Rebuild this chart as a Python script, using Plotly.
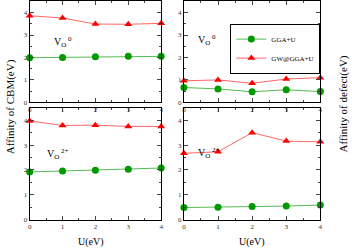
import plotly.graph_objects as go

U = [0, 1, 2, 3, 4]
tick_labels = ["0", "1", "2", "3", "4"]

# Vo0, affinity of CBM
cbm_v0_gga = [1.99, 2.00, 2.03, 2.05, 2.05]
cbm_v0_gw = [3.86, 3.76, 3.49, 3.48, 3.52]
# Vo0, affinity of defect
def_v0_gga = [0.66, 0.60, 0.47, 0.56, 0.48]
def_v0_gw = [0.96, 1.00, 0.85, 1.04, 1.10]
# Vo2+, affinity of CBM
cbm_v2_gga = [1.92, 1.96, 1.99, 2.03, 2.08]
cbm_v2_gw = [3.97, 3.79, 3.80, 3.75, 3.75]
# Vo2+, affinity of defect
def_v2_gga = [0.49, 0.50, 0.53, 0.55, 0.59]
def_v2_gw = [2.67, 2.73, 3.50, 3.16, 3.13]

GREEN = "#009900"
GREEN_L = "#55bb55"
RED = "#ff0000"
RED_L = "#ff6666"
FONT = "Liberation Serif"

fig = go.Figure()

panels = [
    ("x", "y", cbm_v0_gga, cbm_v0_gw, False),
    ("x2", "y2", def_v0_gga, def_v0_gw, True),
    ("x3", "y3", cbm_v2_gga, cbm_v2_gw, False),
    ("x4", "y4", def_v2_gga, def_v2_gw, False),
]
for xa, ya, gga, gw, show in panels:
    fig.add_trace(go.Scatter(
        x=U, y=gga, xaxis=xa, yaxis=ya, mode="lines+markers",
        name="GGA+U", showlegend=show, cliponaxis=False,
        line=dict(color=GREEN_L, width=1),
        marker=dict(color=GREEN, size=7, symbol="circle")))
    fig.add_trace(go.Scatter(
        x=U, y=gw, xaxis=xa, yaxis=ya, mode="lines+markers",
        name="GW@GGA+U", showlegend=show, cliponaxis=False,
        line=dict(color=RED_L, width=1),
        marker=dict(color=RED, size=7, symbol="triangle-up")))

W, H = 352, 252
xl = [28 / W, 161 / W]
xr = [184 / W, 322 / W]
yt = [(H - 104) / H, (H - 1.4) / H]
yb = [(H - 223.3) / H, (H - 109.5) / H]

def xaxis(dom, anchor):
    return dict(domain=dom, anchor=anchor, range=[0, 4], tickvals=U, ticktext=tick_labels,
                ticks="inside", ticklen=4, showline=True, mirror="allticks", linecolor="black",
                linewidth=1, showgrid=False, zeroline=False,
                tickfont=dict(family=FONT, size=7, color="#333"),
                minor=dict(ticks="inside", dtick=0.5, ticklen=2, showgrid=False))

def yaxis(dom, anchor):
    return dict(domain=dom, anchor=anchor, range=[0, 4.5], tickvals=[0, 1, 2, 3, 4],
                ticks="inside", ticklen=4, showline=True, mirror="allticks", linecolor="black",
                linewidth=1, showgrid=False, zeroline=False,
                tickfont=dict(family=FONT, size=7, color="#333"),
                minor=dict(ticks="inside", dtick=0.5, ticklen=2, showgrid=False))

fig.update_layout(
    width=W, height=H, margin=dict(l=0, r=0, t=0, b=0),
    paper_bgcolor="white", plot_bgcolor="white",
    font=dict(family=FONT, color="black"),
    xaxis=xaxis(xl, "y"), yaxis=yaxis(yt, "x"),
    xaxis2=xaxis(xr, "y2"), yaxis2=yaxis(yt, "x2"),
    xaxis3=xaxis(xl, "y3"), yaxis3=yaxis(yb, "x3"),
    xaxis4=xaxis(xr, "y4"), yaxis4=yaxis(yb, "x4"),
    legend=dict(x=322 / W, y=(H - 24) / H, xanchor="right", yanchor="top",
                bgcolor="white", bordercolor="black", borderwidth=1,
                font=dict(family=FONT, size=7), itemwidth=30,
                tracegroupgap=0),
)

anns = [
    dict(x=8 / W, y=(H - 108) / H, text="Affinity of CBM(eV)", textangle=-90, size=11, xa="center"),
    dict(x=345 / W, y=(H - 106) / H, text="Affinity of defect(eV)", textangle=-90, size=11, xa="center"),
    dict(x=90 / W, y=(H - 246) / H, text="U(eV)", textangle=0, size=10, xa="center"),
    dict(x=253 / W, y=(H - 246) / H, text="U(eV)", textangle=0, size=10, xa="center"),
    dict(x=51 / W, y=(H - 43) / H, text="V<sub>O</sub><sup> 0</sup>", textangle=0, size=10, xa="left"),
    dict(x=196 / W, y=(H - 41) / H, text="V<sub>O</sub><sup> 0</sup>", textangle=0, size=10, xa="left"),
    dict(x=43 / W, y=(H - 156) / H, text="V<sub>O</sub><sup> 2+</sup>", textangle=0, size=10, xa="left"),
    dict(x=196 / W, y=(H - 155) / H, text="V<sub>O</sub><sup> 2+</sup>", textangle=0, size=10, xa="left"),
]
for a in anns:
    fig.add_annotation(x=a["x"], y=a["y"], xref="paper", yref="paper", text=a["text"],
                       textangle=a["textangle"], showarrow=False, xanchor=a["xa"],
                       yanchor="middle",
                       font=dict(family=FONT, size=a["size"], color="black"))

fig.write_html("out.html", config={"displayModeBar": False},
               post_script="document.body.style.margin='0';document.body.style.overflow='hidden';")
